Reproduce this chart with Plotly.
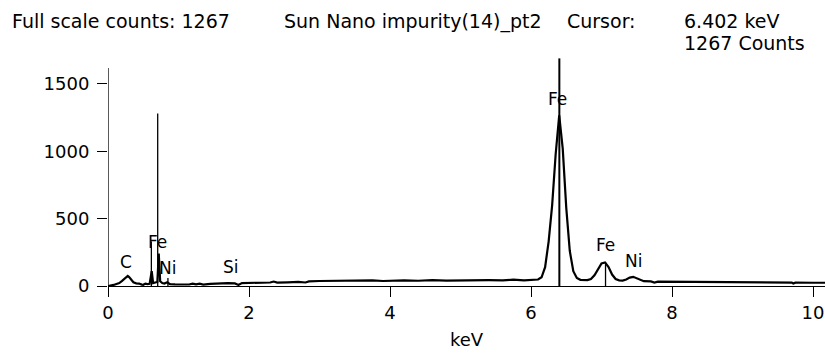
import plotly.graph_objects as go

# Spectrum (keV, counts)
energy_kev = [0.00, 0.04, 0.08, 0.12, 0.16, 0.20, 0.24, 0.28, 0.30, 0.33, 0.36, 0.40, 0.44, 0.48, 0.50,
              0.53, 0.56, 0.59, 0.62, 0.64, 0.67, 0.70, 0.72, 0.74, 0.77, 0.80, 0.84, 0.88, 0.95, 1.05,
              1.15, 1.20, 1.25, 1.30, 1.35, 1.45, 1.55, 1.70, 1.80, 1.85, 1.90, 2.10, 2.30, 2.35, 2.40,
              2.55, 2.70, 2.80, 2.85, 3.00, 3.20, 3.40, 3.50, 3.60, 3.75, 3.90, 4.00, 4.20, 4.40, 4.60,
              4.80, 5.00, 5.20, 5.40, 5.60, 5.75, 5.90, 6.00, 6.10, 6.15, 6.20, 6.25, 6.30, 6.35, 6.40,
              6.45, 6.50, 6.55, 6.60, 6.65, 6.70, 6.80, 6.85, 6.90, 6.95, 7.00, 7.05, 7.10, 7.15, 7.20,
              7.25, 7.30, 7.35, 7.40, 7.45, 7.50, 7.55, 7.60, 7.70, 7.75, 7.80, 8.00, 8.30, 8.35, 8.60,
              8.90, 9.20, 9.50, 9.70, 9.72, 9.75, 10.00, 10.17]
counts = [0, 3, 8, 15, 22, 38, 58, 74, 66, 45, 28, 20, 18, 10, 9,
          18, 14, 16, 110, 22, 25, 30, 240, 35, 22, 18, 28, 14, 12, 10,
          11, 18, 12, 17, 11, 16, 20, 21, 19, 8, 22, 24, 26, 33, 25,
          27, 30, 26, 34, 37, 38, 37, 40, 38, 42, 37, 40, 42, 39, 43,
          40, 42, 40, 43, 42, 47, 42, 44, 48, 65, 140, 330, 600, 980, 1267,
          1020, 580, 260, 110, 60, 46, 44, 52, 80, 128, 168, 175, 140, 85, 52,
          42, 40, 48, 62, 68, 58, 44, 36, 34, 26, 32, 31, 32, 28, 28,
          28, 27, 26, 25, 18, 25, 24, 24]

# Element marker lines (keV, height in counts)
marker_kev = [0.615, 0.705, 0.85, 7.057]
marker_height = [330, 1280, 60, 175]

# Cursor
cursor_kev = 6.402
cursor_top = 1690

# Element labels
label_text = ["C", "Fe", "Ni", "Si", "Fe", "Fe", "Ni"]
label_kev = [0.255, 0.695, 0.85, 1.745, 6.38, 7.05, 7.45]
label_counts = [178, 327, 134, 141, 1389, 304, 186]

x_ticks = [0, 2, 4, 6, 8, 10]
y_ticks = [0, 500, 1000, 1500]
x_range = [0, 10.17]
y_range = [0, 1715]
y_axis_top = 1619

FONT = "DejaVu Sans"

fig = go.Figure()

fig.add_trace(go.Scatter(x=energy_kev, y=counts, mode="lines",
                         line=dict(color="black", width=2.2), hoverinfo="skip", showlegend=False))

mx, my = [], []
for k, h in zip(marker_kev, marker_height):
    mx += [k, k, None]
    my += [0, h, None]
fig.add_trace(go.Scatter(x=mx, y=my, mode="lines", line=dict(color="black", width=1.3),
                         hoverinfo="skip", showlegend=False))
fig.add_trace(go.Scatter(x=[cursor_kev, cursor_kev], y=[0, cursor_top], mode="lines",
                         line=dict(color="black", width=2), hoverinfo="skip", showlegend=False, cliponaxis=False))

# y axis line (ends below the top of the plotting area)
fig.add_trace(go.Scatter(x=[0, 0], y=[0, y_axis_top], mode="lines", line=dict(color="black", width=1.3),
                         hoverinfo="skip", showlegend=False, cliponaxis=False))

for t, xk, yc in zip(label_text, label_kev, label_counts):
    fig.add_annotation(x=xk, y=yc, text=t, showarrow=False, xanchor="center", yanchor="middle",
                       font=dict(family=FONT, size=17, color="black"))

L, R, T, B = 108, 0, 55, 68
W, H = 825, 354
pw, ph = W - L - R, H - T - B


def px_x(px):
    return (px - L) / pw


def px_y(py):
    return (H - B - py) / ph


header = [
    ("Full scale counts: 1267", 10, 21),
    ("Sun Nano impurity(14)_pt2", 282, 21),
    ("Cursor:", 565, 21),
    ("6.402 keV", 682, 21),
    ("1267 Counts", 682, 43),
]
for t, x0, y0 in header:
    fig.add_annotation(x=px_x(x0), y=px_y(y0), xref="paper", yref="paper", text=t, showarrow=False,
                       xanchor="left", yanchor="middle", font=dict(family=FONT, size=19, color="black"))

fig.update_layout(
    width=W, height=H,
    margin=dict(l=L, r=R, t=T, b=B),
    paper_bgcolor="white", plot_bgcolor="white",
    font=dict(family=FONT, size=18, color="black"),
    xaxis=dict(range=x_range, tickvals=x_ticks, ticks="outside", ticklen=10, tickwidth=1.3,
               tickcolor="black", showline=True, linecolor="black", linewidth=1.3,
               showgrid=False, zeroline=False,
               title=dict(text="keV", font=dict(family=FONT, size=18), standoff=11)),
    yaxis=dict(range=y_range, tickvals=y_ticks, ticks="outside", ticklen=10, tickwidth=1.3,
               tickcolor="black", showline=False, showgrid=False, zeroline=False,
               ticklabelstandoff=4),
)

fig.write_html("out.html", config={"displayModeBar": False},
               post_script="document.body.style.margin='0px';document.body.style.overflow='hidden';")
